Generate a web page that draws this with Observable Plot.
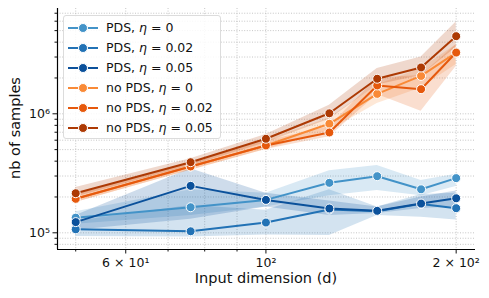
<!DOCTYPE html>
<html>
<head>
<meta charset="utf-8">
<script src="https://cdn.jsdelivr.net/npm/d3@7"></script>
<script src="https://cdn.jsdelivr.net/npm/@observablehq/plot@0.6"></script>
<style>
  html, body { margin: 0; padding: 0; background: #fff; }
  #wrap { position: relative; width: 489px; height: 298px; font-family: "DejaVu Sans", sans-serif; }
  #legend { position: absolute; left: 63px; top: 15px; width: 158px; height: 124px;
    border: 1px solid #dcdcdc; border-radius: 3px; background: rgba(255,255,255,0.85);
    box-sizing: border-box; padding-top: 2px; font-size: 12.5px; color: #111; }
  .row { position: relative; height: 20px; line-height: 20px; }
  .row .ln { position: absolute; left: 4px; top: 9px; width: 30px; height: 2px; }
  .row .dt { position: absolute; left: 14px; top: 5px; width: 8px; height: 8px; border-radius: 50%; border: 1px solid #fff; }
  .row .tx { position: absolute; left: 42px; top: 0; white-space: nowrap; }
  #ylab { position: absolute; left: 15px; top: 128px; transform: translate(-50%,-50%) rotate(-90deg); transform-origin: center; font-size: 14.5px; white-space: nowrap; color: #111; }
  #xlab { position: absolute; left: 266px; top: 278px; transform: translate(-50%,-50%); font-size: 14.5px; white-space: nowrap; color: #111; }
</style>
</head>
<body>
<div id="wrap"></div>
<script>
// ---- data ----
const dims = [50, 76, 100, 126, 150, 176, 200];
const seriesNames = ["PDS, η=0", "PDS, η=0.02", "PDS, η=0.05", "no PDS, η=0", "no PDS, η=0.02", "no PDS, η=0.05"];
const legendLabels = ["PDS, <i>η</i> = 0", "PDS, <i>η</i> = 0.02", "PDS, <i>η</i> = 0.05",
                      "no PDS, <i>η</i> = 0", "no PDS, <i>η</i> = 0.02", "no PDS, <i>η</i> = 0.05"];
const colors = ["#4393c8", "#2272b5", "#0b519b", "#f98a37", "#e6590d", "#ad3a04"];

const pds0     = [134e3, 164e3, 189e3, 263e3, 299e3, 232e3, 288e3];
const pds0Lo   = [118e3, 140e3, 165e3, 205e3, 227e3, 205e3, 245e3];
const pds0Hi   = [150e3, 230e3, 215e3, 333e3, 368e3, 275e3, 310e3];
const pds02    = [107e3, 103e3, 122e3, 157e3, 152e3, 175e3, 161e3];
const pds02Lo  = [93e3, 92e3, 96e3, 95e3, 140e3, 135e3, 128e3];
const pds02Hi  = [125e3, 170e3, 155e3, 230e3, 165e3, 210e3, 215e3];
const pds05    = [123e3, 248e3, 189e3, 160e3, 153e3, 176e3, 195e3];
const pds05Lo  = [105e3, 130e3, 165e3, 140e3, 145e3, 160e3, 165e3];
const pds05Hi  = [140e3, 345e3, 215e3, 185e3, 165e3, 200e3, 225e3];
const nopds0   = [193e3, 361e3, 542e3, 824e3, 1.47e6, 2.08e6, 3.27e6];
const nopds0Lo = [180e3, 335e3, 500e3, 720e3, 1.22e6, 1.65e6, 2.6e6];
const nopds0Hi = [210e3, 390e3, 600e3, 920e3, 1.75e6, 2.4e6, 3.8e6];
const nopds02   = [193e3, 361e3, 542e3, 697e3, 1.73e6, 1.61e6, 3.27e6];
const nopds02Lo = [180e3, 335e3, 500e3, 640e3, 1.45e6, 1.05e6, 2.5e6];
const nopds02Hi = [210e3, 390e3, 590e3, 780e3, 2.0e6, 2.1e6, 3.8e6];
const nopds05   = [215e3, 392e3, 617e3, 1.01e6, 1.97e6, 2.45e6, 4.49e6];
const nopds05Lo = [200e3, 365e3, 570e3, 900e3, 1.75e6, 2.1e6, 3.6e6];
const nopds05Hi = [240e3, 420e3, 670e3, 1.18e6, 2.4e6, 3.0e6, 5.9e6];

const xMajorTicks = [60, 100, 200];
const xMajorLabels = ["6 × 10¹", "10²", "2 × 10²"];
const xMinorTicks = [50, 70, 80, 90];
const yMajorTicks = [1e5, 1e6];
const yMajorLabels = ["10⁵", "10⁶"];
const yMinorTicks = [8e4, 9e4, 2e5, 3e5, 4e5, 5e5, 6e5, 7e5, 8e5, 9e5, 2e6, 3e6, 4e6, 5e6, 6e6, 7e6];

// ---- build table ----
const seriesVals = [[pds0, pds0Lo, pds0Hi], [pds02, pds02Lo, pds02Hi], [pds05, pds05Lo, pds05Hi],
                    [nopds0, nopds0Lo, nopds0Hi], [nopds02, nopds02Lo, nopds02Hi], [nopds05, nopds05Lo, nopds05Hi]];
const rows = [];
seriesVals.forEach(([v, lo, hi], s) => {
  dims.forEach((d, i) => rows.push({series: seriesNames[s], d, y: v[i], lo: lo[i], hi: hi[i]}));
});

const xDomain = [46.79, 214.6];
const yDomain = [72400, 7.67e6];

const marks = [
  Plot.ruleX([...xMinorTicks, ...xMajorTicks], {stroke: "#b8b8b8", strokeWidth: 0.8, strokeDasharray: "1,1.6"}),
  Plot.ruleY([...yMinorTicks, ...yMajorTicks], {stroke: "#b8b8b8", strokeWidth: 0.8, strokeDasharray: "1,1.6"}),
];
seriesNames.forEach(name => {
  marks.push(Plot.areaY(rows.filter(r => r.series === name), {x: "d", y1: "lo", y2: "hi", fill: "series", fillOpacity: 0.2}));
});
seriesNames.forEach(name => {
  const sub = rows.filter(r => r.series === name);
  marks.push(Plot.line(sub, {x: "d", y: "y", stroke: "series", strokeWidth: 2}));
  marks.push(Plot.dot(sub, {x: "d", y: "y", fill: "series", stroke: "white", strokeWidth: 1, r: 4.5}));
});
marks.push(
  Plot.axisX(xMajorTicks, {tickSize: 4.5, tickPadding: 4, fontSize: 12.5, tickFormat: (d) => xMajorLabels[xMajorTicks.indexOf(d)], label: null}),
  Plot.axisX(xMinorTicks, {tickSize: 2.5, tickFormat: () => "", label: null}),
  Plot.axisY(yMajorTicks, {tickSize: 4.5, tickPadding: 3, fontSize: 12.5, tickFormat: (d) => yMajorLabels[yMajorTicks.indexOf(d)], label: null}),
  Plot.axisY(yMinorTicks, {tickSize: 2.5, tickFormat: () => "", label: null}),
  Plot.ruleX([xDomain[0]], {stroke: "black", strokeWidth: 1.2}),
  Plot.ruleY([yDomain[0]], {stroke: "black", strokeWidth: 1.2})
);

const chart = Plot.plot({
  width: 489,
  height: 298,
  marginLeft: 57,
  marginRight: 14,
  marginTop: 8,
  marginBottom: 49,
  style: {fontFamily: "DejaVu Sans, sans-serif", color: "#111", background: "white"},
  x: {type: "log", domain: xDomain, label: null},
  y: {type: "log", domain: yDomain, label: null},
  color: {domain: seriesNames, range: colors},
  marks
});

const wrap = document.getElementById("wrap");
wrap.appendChild(chart);

const legend = document.createElement("div");
legend.id = "legend";
seriesNames.forEach((n, i) => {
  const row = document.createElement("div");
  row.className = "row";
  row.innerHTML = `<span class="ln" style="background:${colors[i]}"></span><span class="dt" style="background:${colors[i]}"></span><span class="tx">${legendLabels[i]}</span>`;
  legend.appendChild(row);
});
wrap.appendChild(legend);

const ylab = document.createElement("div");
ylab.id = "ylab"; ylab.textContent = "nb of samples";
wrap.appendChild(ylab);
const xlab = document.createElement("div");
xlab.id = "xlab"; xlab.textContent = "Input dimension (d)";
wrap.appendChild(xlab);
</script>
</body>
</html>
